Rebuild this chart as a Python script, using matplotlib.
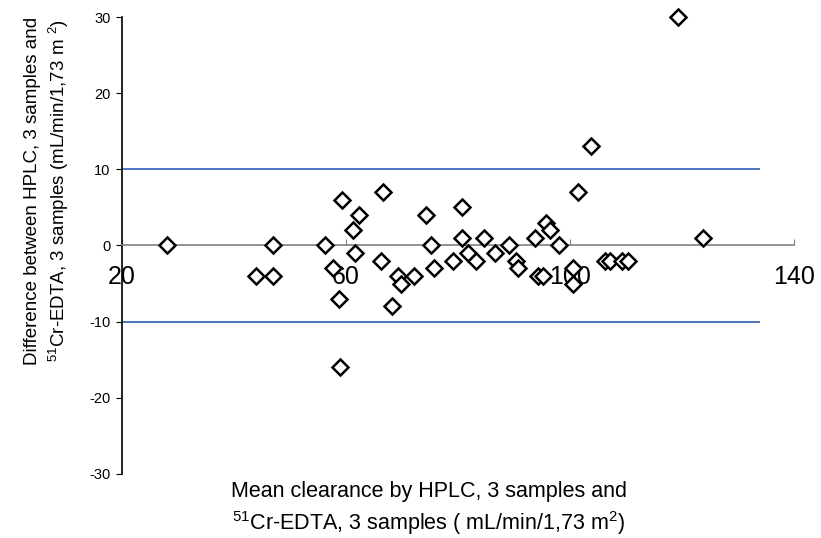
import matplotlib
matplotlib.use("Agg")
import matplotlib.pyplot as plt

plt.rcParams['font.family'] = ['Liberation Sans', 'DejaVu Sans']
plt.rcParams['mathtext.fontset'] = 'custom'
plt.rcParams['mathtext.rm'] = 'Liberation Sans'
plt.rcParams['mathtext.it'] = 'Liberation Sans:italic'
plt.rcParams['mathtext.bf'] = 'Liberation Sans:bold'
plt.rcParams['axes.unicode_minus'] = False

# Data (Bland-Altman style plot)
mean_clearance = [28.1, 44.0, 47.0, 47.0, 56.3, 57.8, 59.3, 58.9, 59.0, 61.3,
                  61.7, 62.4, 66.3, 66.7, 68.3, 69.3, 69.8, 72.2, 74.3, 75.2,
                  75.8, 79.2, 80.7, 80.7, 81.9, 83.2, 84.7, 86.6, 89.2, 90.4,
                  90.8, 93.8, 94.4, 95.3, 95.7, 96.5, 98.1, 100.6, 100.6, 101.5,
                  103.7, 106.3, 107.2, 109.3, 110.4, 119.3, 123.7]
difference = [0, -4, -4, 0, 0, -3, 6, -7, -16, 2,
              -1, 4, -2, 7, -8, -4, -5, -4, 4, 0,
              -3, -2, 5, 1, -1, -2, 1, -1, 0, -2,
              -3, 1, -4, -4, 3, 2, 0, -3, -5, 7,
              13, -2, -2, -2, -2, 30, 1]
limits = [10, -10]
x_ticks = [20, 60, 100, 140]
y_ticks = [-30, -20, -10, 0, 10, 20, 30]

fig = plt.figure(figsize=(8.21, 5.38), dpi=100)
ax = fig.add_axes([0.148, 0.119, 0.819, 0.8494])

ax.set_xlim(20, 140)
ax.set_ylim(-30, 30)

for lim in limits:
    ax.hlines(lim, 19.5, 134, colors='#4a76c0', linewidth=1.4, zorder=2)

ax.plot(mean_clearance, difference, linestyle='none', marker='D', markersize=8.5,
        markerfacecolor='white', markeredgecolor='black', markeredgewidth=1.8,
        zorder=3, clip_on=False)

ax.spines['top'].set_visible(False)
ax.spines['right'].set_visible(False)
ax.spines['bottom'].set_position(('data', 0))
ax.spines['bottom'].set_color('#808080')
ax.spines['bottom'].set_linewidth(1.2)
ax.spines['left'].set_color('black')
ax.spines['left'].set_linewidth(1.2)

ax.set_xticks(x_ticks)
ax.set_yticks(y_ticks)
ax.tick_params(axis='x', direction='in', length=4, color='#808080', pad=14,
               labelsize=18)
ax.tick_params(axis='y', direction='out', length=4, pad=4, labelsize=10.5)

fig.text(0.058, 0.645,
         'Difference between HPLC, 3 samples and\n'
         r'$^{51}$Cr-EDTA, 3 samples (mL/min/1,73 m $^{2}$)',
         rotation=90, ha='center', va='center', fontsize=13.5,
         multialignment='center', linespacing=1.35)
fig.text(0.522, 0.054,
         'Mean clearance by HPLC, 3 samples and\n'
         r'$^{51}$Cr-EDTA, 3 samples ( mL/min/1,73 m$^{2}$)',
         ha='center', va='center', fontsize=15.5,
         multialignment='center', linespacing=1.3)

fig.savefig('out.png', dpi=100)
